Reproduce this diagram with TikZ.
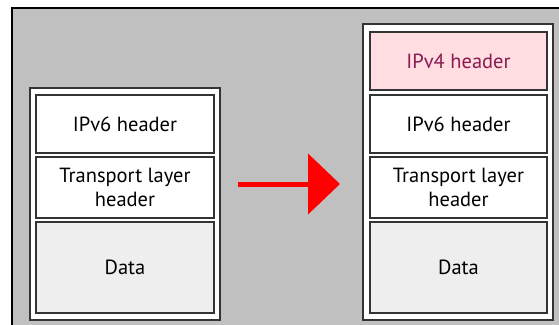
\documentclass[tikz,border=0pt]{standalone}
\usepackage{fontspec}
\setmainfont{PT Sans}
\usetikzlibrary{arrows.meta}
\definecolor{panelgray}{HTML}{C0C0C0}
\definecolor{boxline}{HTML}{333333}
\definecolor{datafill}{HTML}{EEEEEE}
\definecolor{pinkfill}{HTML}{FFDDE0}
\definecolor{maroon}{HTML}{8B1A50}
\definecolor{arrowred}{HTML}{FF0000}
\begin{document}
\begin{tikzpicture}[x=1pt,y=-1pt,
  frame/.style={draw=boxline,line width=1.5pt,fill=white},
  field/.style={draw=boxline,line width=1.5pt,fill=white,rectangle,inner sep=0pt,
    align=center,font=\fontsize{20.5}{24}\selectfont,text=black},
  datafield/.style={field,fill=datafill},
  v4field/.style={field,fill=pinkfill,text=maroon}]
\useasboundingbox (0,0) rectangle (559,324);
\clip (0,0) rectangle (559,324);
\fill[white] (0,0) rectangle (559,324);
% panel
\draw[black,line width=1.5pt,fill=panelgray] (12,8) rectangle (580,340);
% left stack
\draw[frame] (30,88) rectangle (220,320);
\node[field,minimum width=178pt,minimum height=58pt] (l6) at (125,124) {IPv6 header};
\node[field,minimum width=178pt,minimum height=61pt] (lt) at (125,187.5) {Transport layer\\header};
\node[datafield,minimum width=178pt,minimum height=91pt] (ld) at (125,267.5) {Data};
% right stack
\draw[frame] (363,24) rectangle (553,320);
\node[v4field,minimum width=177pt,minimum height=58pt] (r4) at (458.5,61) {IPv4 header};
\node[field,minimum width=177pt,minimum height=58pt] (r6) at (458.5,124) {IPv6 header};
\node[field,minimum width=177pt,minimum height=61pt] (rt) at (458.5,187.5) {Transport layer\\header};
\node[datafield,minimum width=177pt,minimum height=91pt] (rd) at (458.5,267.5) {Data};
% arrow
\coordinate (as) at (238,184);
\coordinate (ae) at (340,184);
\draw[arrowred,line width=5pt,-{Triangle[length=32pt,width=60pt]}] (as) -- (ae);
\end{tikzpicture}
\end{document}
